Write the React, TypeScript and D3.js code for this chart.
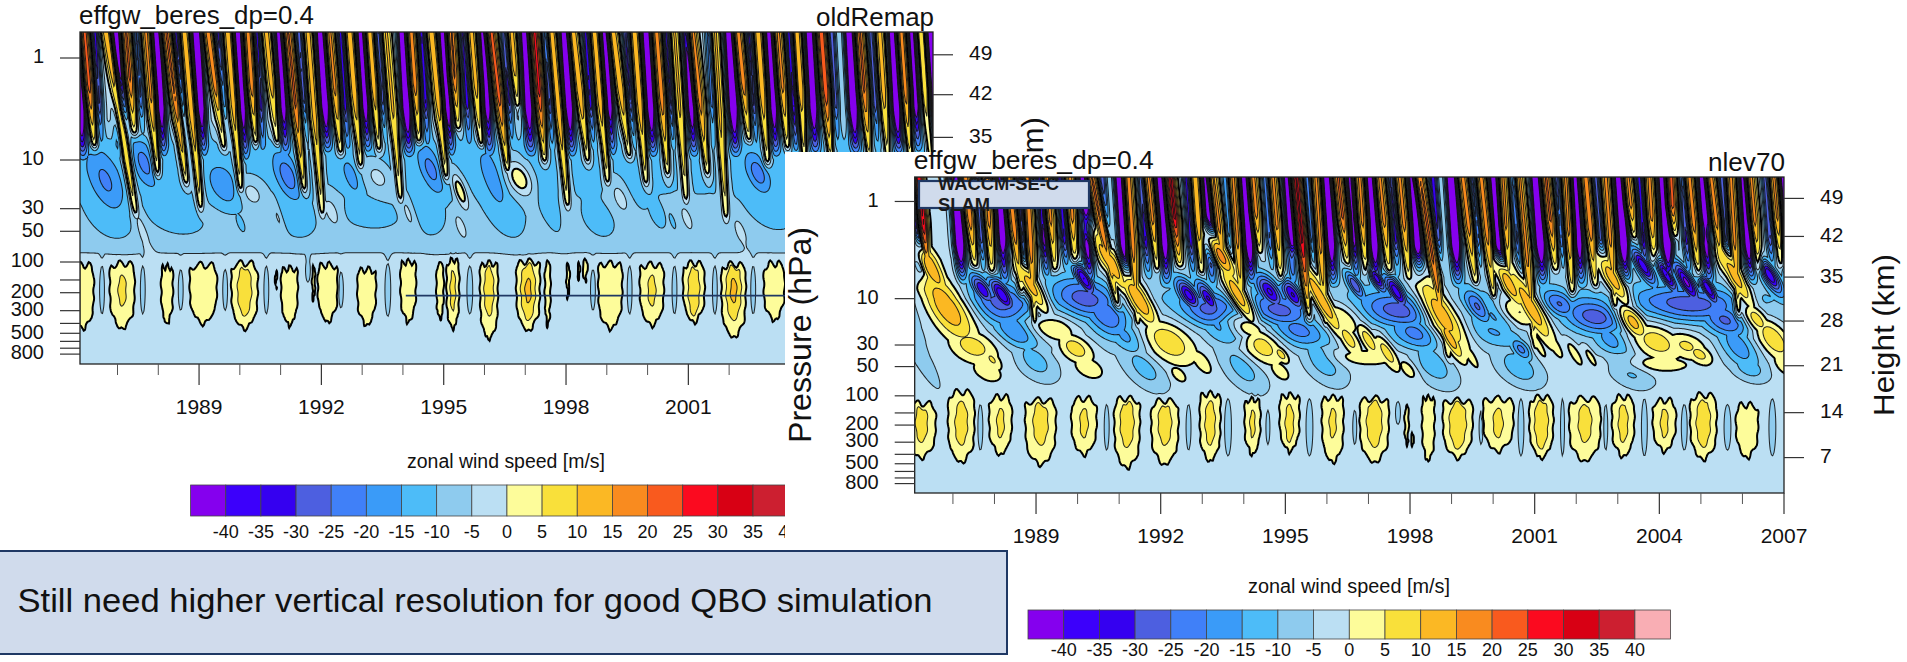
import React, { useMemo } from "react";
import * as d3 from "d3";

// The wind field is not the model output: it is rebuilt from features read off the
// picture (jet streaks, QBO patches, tropospheric cells), in years and hPa.

const levels = [-40, -35, -30, -25, -20, -15, -10, -5, 0, 5, 10, 15, 20, 25, 30, 35, 40];
const colors = ["#8500ee", "#3c00fb", "#3500f0", "#4d5fe0", "#4080f8", "#3a9bf8", "#4dbcf8", "#8ecbee", "#bbdff3",
  "#fdfc9a", "#f9e03a", "#fbb824", "#f98b1f", "#f95a1e", "#fb0a1f", "#d80014", "#cc1f30", "#f9aeb4"];
const majorYears = [1989, 1992, 1995, 1998, 2001, 2004, 2007];
const minorYears = [1987, 1988, 1990, 1991, 1993, 1994, 1996, 1997, 1999, 2000, 2002, 2003, 2005, 2006];
const pressureLabels = [1, 10, 30, 50, 100, 200, 300, 500, 800];
const pressureMinor = [150, 400, 600, 700];
const heightLabels = [49, 42, 35, 28, 21, 14, 7];
const heightPressure = [0.93, 2.29, 6.0, 17, 49, 149, 432];

// west streaks: top year, tip year, tip hPa, peak m/s
const leftWest = [
  [1986.19, 1986.44, 7.7, 20], [1986.72, 1987.46, 36, 12], [1987.21, 1987.42, 5.7, 18], [1987.7, 1987.99, 14.6, 14],
  [1988.2, 1988.7, 18, 18], [1988.64, 1989.05, 32, 12], [1989.22, 1989.62, 8, 16], [1989.71, 1990.03, 21, 12],
  [1990.2, 1990.4, 7.1, 16], [1990.65, 1990.93, 7.1, 10], [1991.18, 1991.59, 21, 18], [1991.67, 1992.03, 36, 10],
  [1992.2, 1992.48, 8.9, 14], [1992.69, 1992.97, 12, 12], [1993.18, 1993.42, 8.3, 12], [1993.59, 1993.95, 26, 8],
  [1994.2, 1994.4, 6.9, 16], [1994.7, 1995.07, 15.7, 12], [1995.19, 1995.35, 5.1, 18], [1995.68, 1995.93, 7.4, 10],
  [1996.17, 1996.58, 13.5, 20], [1996.66, 1996.82, 3, 10], [1997.23, 1997.48, 10.8, 24], [1997.64, 1998.05, 30, 12],
  [1998.17, 1998.54, 10.8, 12], [1998.7, 1999.03, 17.6, 12], [1999.15, 1999.56, 9.6, 12], [1999.68, 1999.97, 18, 12],
  [2000.22, 2000.5, 14.6, 16], [2000.66, 2000.95, 26, 8], [2001.11, 2001.48, 14.6, 16], [2001.65, 2001.93, 39, 9],
  [2002.22, 2002.5, 6.6, 16], [2002.71, 2002.95, 11.2, 12], [2003.2, 2003.44, 8, 14], [2003.65, 2003.85, 10, 14],
  [2004.26, 2004.5, 10, 22], [2005.2, 2005.45, 10, 18], [2005.69, 2005.9, 10, 10], [2006.22, 2006.45, 10, 16],
  [2006.71, 2006.95, 10, 8],
];
// east streaks: top year, tip hPa, peak m/s
const leftEast = [
  [1986.0, 10.8, -55], [1986.44, 8, -28], [1986.97, 10, -55], [1987.46, 6, -22], [1987.95, 10, -55], [1988.44, 8, -32],
  [1988.93, 10, -55], [1989.46, 8, -28], [1989.95, 11, -55], [1990.4, 9, -32], [1990.97, 10, -45], [1991.46, 7, -26],
  [1991.99, 9, -55], [1992.48, 9, -30], [1992.97, 9, -50], [1993.38, 7, -28], [1994.0, 10, -55], [1994.45, 8, -30],
  [1994.99, 10, -55], [1995.48, 8, -28], [1995.97, 10, -45], [1996.5, 8, -28], [1996.99, 10, -50], [1997.52, 8, -30],
  [1997.97, 10, -55], [1998.5, 8, -30], [1998.95, 10, -50], [1999.48, 8, -28], [1999.97, 10, -55], [2000.46, 8, -30],
  [2000.99, 10, -50], [2001.52, 8, -26], [2002.01, 10, -55], [2002.5, 8, -28], [2002.99, 10, -50], [2003.53, 9, -45],
  [2003.97, 10, -50], [2004.5, 8, -25], [2004.96, 10, -55], [2005.49, 8, -25], [2006.02, 10, -55], [2006.47, 9, -45],
  [2006.92, 10, -50],
];
// patches: year, hPa, sigma years, sigma decades, value m/s
const leftPatches = [
  [1986.72, 16.6, 0.25, 0.2, -21], [1986.85, 39, 0.3, 0.13, -14], [1987.66, 10.8, 0.18, 0.15, -22], [1988.48, 36, 0.4, 0.12, -14],
  [1989.62, 18, 0.22, 0.12, -20], [1991.18, 14.6, 0.18, 0.15, -23], [1991.34, 39, 0.3, 0.12, -14], [1990.03, 43, 0.06, 0.06, -12],
  [1992.73, 14.6, 0.1, 0.1, -19], [1993.22, 36, 0.4, 0.08, -13], [1994.69, 12.5, 0.16, 0.15, -22], [1994.53, 36, 0.3, 0.15, -13],
  [1996.21, 15.7, 0.15, 0.2, -19], [1996.54, 36, 0.25, 0.15, -14], [1997.6, 31, 0.12, 0.15, -14], [1998.83, 42, 0.22, 0.1, -13],
  [1999.73, 18, 0.12, 0.12, -14], [2000.26, 36, 0.1, 0.08, -13], [2000.62, 41, 0.04, 0.05, -12], [2002.71, 13.5, 0.16, 0.12, -23],
  [2003.07, 32, 0.3, 0.12, -14],
  [1990.28, 21, 0.22, 0.1, -3], [1990.93, 36, 0.08, 0.12, -3], [1992.24, 31, 0.15, 0.12, -3], [1993.38, 14.6, 0.2, 0.1, -3],
  [1994.12, 32, 0.12, 0.15, -3], [1987.58, 46, 0.1, 0.15, -3], [1995.4, 43, 0.1, 0.1, -3], [1999.32, 23, 0.15, 0.12, -3],
  [2000.95, 36, 0.1, 0.1, -3], [2002.26, 48, 0.1, 0.1, -3], [1996.85, 15, 0.2, 0.12, 4], [1995.4, 20, 0.1, 0.12, 4],
  [1986.62, 188, 0.05, 0.2, -7], [1987.62, 188, 0.05, 0.2, -7], [1988.55, 188, 0.05, 0.17, -7], [1989.64, 188, 0.05, 0.17, -7],
  [1990.65, 188, 0.05, 0.2, -7], [1991.67, 120, 0.05, 0.1, -7], [1992.48, 188, 0.05, 0.15, -7], [1993.63, 188, 0.06, 0.22, -7],
  [1995.64, 188, 0.06, 0.2, -7], [1998.66, 188, 0.05, 0.17, -7], [1999.56, 188, 0.05, 0.2, -7], [2000.66, 188, 0.05, 0.2, -7],
  [2001.65, 188, 0.05, 0.2, -7], [2002.59, 188, 0.05, 0.2, -7],
];
// tropospheric cells: start year, end year, top hPa, bottom hPa, peak m/s
const leftCells = [
  [1985.9, 1986.42, 99, 480, 5], [1986.81, 1987.42, 96, 480, 6], [1988.07, 1988.36, 103, 430, 5], [1988.77, 1989.44, 99, 430, 5],
  [1989.79, 1990.44, 96, 480, 9], [1990.85, 1990.93, 120, 188, 3], [1991.01, 1991.42, 107, 446, 4], [1991.77, 1991.85, 107, 265, 3],
  [1991.91, 1992.4, 99, 414, 4], [1992.88, 1993.34, 110, 446, 4], [1993.94, 1994.32, 92, 414, 4], [1994.82, 1995.0, 99, 399, 4],
  [1995.07, 1995.38, 89, 480, 7], [1995.89, 1996.33, 96, 604, 9], [1996.78, 1997.36, 92, 500, 12], [1997.48, 1997.62, 96, 446, 4],
  [1998.01, 1998.09, 99, 245, 3], [1998.27, 1998.35, 99, 162, 3], [1998.4, 1998.54, 92, 162, 3], [1998.79, 1999.38, 96, 480, 5],
  [1999.81, 2000.4, 99, 446, 6], [2000.87, 2001.4, 96, 414, 9], [2001.81, 2002.41, 99, 582, 12], [2002.85, 2003.36, 96, 399, 4],
];
const leftBaseZ = [-0.3, 0.6, 0.85, 1.1, 1.3, 1.5, 1.8, 1.9, 2.0, 2.8, 3];
const leftBaseU = [-4, -4, -11, -11, -10.2, -9, -7, -5.2, -3, -3, -2.5];

const rightWest = [
  [1986.18, 1986.42, 6.6, 28], [1987.3, 1987.54, 4.8, 16], [1987.82, 1987.94, 5.6, 14], [1988.34, 1988.66, 9.1, 16],
  [1988.78, 1988.98, 20, 16], [1989.26, 1989.46, 5.2, 14], [1989.82, 1989.94, 4.5, 14], [1990.34, 1990.98, 12.4, 18],
  [1991.22, 1991.46, 20, 16], [1991.7, 1991.94, 5.2, 14], [1992.23, 1992.47, 4.8, 28], [1992.83, 1992.99, 5.6, 12],
  [1993.26, 1993.58, 7.7, 14], [1993.74, 1993.98, 15.7, 14], [1994.22, 1994.38, 3.5, 15], [1994.7, 1994.9, 6.6, 14],
  [1995.26, 1995.58, 17, 28], [1995.74, 1995.98, 20, 14], [1996.27, 1996.51, 4.5, 18], [1996.79, 1996.95, 5.6, 14],
  [1997.27, 1997.51, 5.6, 14], [1997.75, 1997.99, 6.6, 14], [1998.23, 1998.95, 44, 18], [1999.27, 1999.59, 7.2, 15],
  [1999.71, 2000.03, 10.6, 15], [2000.23, 2000.39, 7.2, 14], [2000.63, 2001.03, 35, 14], [2001.27, 2001.51, 5.2, 18],
  [2001.75, 2001.91, 9.1, 14], [2002.23, 2002.47, 7.7, 16], [2002.71, 2002.95, 13.4, 14], [2003.24, 2003.4, 2.4, 14],
  [2003.76, 2003.88, 4.2, 14], [2004.28, 2004.36, 2.4, 20], [2004.72, 2004.96, 6.1, 15], [2005.24, 2005.52, 5.2, 15],
  [2005.72, 2005.92, 15.7, 14], [2006.2, 2006.4, 5.2, 15], [2006.76, 2006.96, 4.8, 14],
];
const rightEast = [
  [1986.08, 8, -50], [1987.06, 8, -55], [1987.58, 6, -25], [1988.1, 8, -50], [1988.58, 7, -35], [1989.1, 7, -40], [1989.58, 6, -30],
  [1990.14, 8, -50], [1990.58, 6, -25], [1991.02, 8, -55], [1991.54, 7, -30], [1991.98, 8, -50], [1992.63, 7, -30], [1993.1, 8, -50],
  [1993.58, 5, -20], [1994.02, 8, -55], [1994.54, 6, -25], [1995.06, 8, -50], [1995.54, 6, -22], [1995.98, 8, -55], [1996.55, 7, -40],
  [1997.03, 8, -55], [1997.55, 7, -28], [1998.07, 8, -50], [1998.55, 6, -28], [1998.99, 8, -55], [1999.51, 6, -25], [2000.03, 8, -55],
  [2000.51, 7, -30], [2001.03, 8, -55], [2001.55, 6, -25], [2001.95, 8, -50], [2002.47, 6, -25], [2003.03, 8, -55], [2003.52, 7, -30],
  [2004.08, 8, -55], [2004.56, 7, -28], [2005.04, 8, -50], [2005.52, 7, -28], [2006.04, 8, -50], [2006.56, 6, -25], [2006.96, 8, -50],
];
const rightPatches = [
  // QBO west phases
  [1986.5, 5.2, 0.15, 0.2, 14], [1986.82, 11.5, 0.28, 0.2, 14], [1987.06, 20, 0.25, 0.08, 6], [1987.46, 30, 0.3, 0.1, 7.5], [1987.94, 42, 0.1, 0.06, 6], [1987.82, 55, 0.2, 0.07, 3],
  [1988.9, 7.7, 0.12, 0.15, 13], [1989.38, 20, 0.3, 0.08, 5], [1989.94, 32, 0.2, 0.08, 8], [1990.26, 51, 0.2, 0.07, 3],
  [1990.82, 4.5, 0.12, 0.2, 15], [1991.46, 10, 0.15, 0.15, 15], [1992.18, 27, 0.3, 0.12, 9], [1992.42, 60, 0.1, 0.05, 3], [1992.98, 44, 0.12, 0.08, 3],
  [1993.42, 3.5, 0.12, 0.15, 18], [1993.86, 9.1, 0.12, 0.15, 14], [1994.06, 20, 0.25, 0.08, 5], [1994.42, 30, 0.25, 0.1, 8], [1994.89, 37, 0.08, 0.05, 8], [1994.86, 55, 0.12, 0.06, 3],
  [1995.86, 10, 0.12, 0.2, 14], [1996.3, 15.7, 0.25, 0.1, 5], [1996.5, 25, 0.12, 0.1, 8], [1996.99, 26, 0.1, 0.1, 8], [1997.43, 35, 0.1, 0.1, 8], [1997.95, 53, 0.1, 0.06, 3], [1996.95, 40, 0.4, 0.05, 3],
  [1998.71, 13.4, 0.2, 0.2, 14], [1998.95, 25, 0.1, 0.12, 14], [1999.43, 37, 0.07, 0.09, 3],
  [2000.39, 7.2, 0.12, 0.15, 14], [2000.87, 11.5, 0.14, 0.2, 14], [2000.55, 13.4, 0.3, 0.1, 6], [2001.03, 27, 0.07, 0.1, 4],
  [2001.43, 28, 0.09, 0.1, 3], [2001.95, 36, 0.07, 0.08, 3], [2002.35, 40, 0.05, 0.06, 3],
  [2002.91, 6.6, 0.12, 0.15, 13], [2003.35, 17, 0.15, 0.1, 13], [2003.91, 27, 0.3, 0.1, 8], [2004.64, 30, 0.25, 0.08, 6], [2004.96, 37, 0.15, 0.06, 7], [2003.91, 47, 0.5, 0.05, 3],
  [2005.84, 6.1, 0.12, 0.2, 13], [2006.32, 15.7, 0.15, 0.1, 8], [2006.72, 25, 0.2, 0.12, 9], [2006.96, 47, 0.12, 0.07, 3],
  // QBO east phases
  [1988.18, 11.5, 0.45, 0.13, -27], [1988.58, 21.5, 0.3, 0.1, -22], [1988.98, 44, 0.22, 0.1, -13], [1987.7, 8, 0.12, 0.09, -36], [1988.18, 9.1, 0.12, 0.1, -40],
  [1990.18, 10, 0.4, 0.12, -28], [1990.14, 6.1, 0.1, 0.1, -40], [1990.74, 15.7, 0.3, 0.13, -24], [1991.22, 25, 0.22, 0.1, -18], [1991.62, 51, 0.22, 0.12, -13],
  [1992.67, 9.1, 0.12, 0.09, -38], [1993.15, 10, 0.1, 0.1, -36], [1993.26, 13.4, 0.4, 0.1, -28], [1993.66, 20, 0.3, 0.1, -22], [1993.98, 51, 0.22, 0.13, -13],
  [1994.62, 8.4, 0.14, 0.1, -36], [1995.18, 9.1, 0.12, 0.1, -36], [1994.86, 13.4, 0.45, 0.1, -27], [1995.34, 21.5, 0.4, 0.1, -22], [1995.9, 44, 0.22, 0.12, -14],
  [1996.67, 7.2, 0.08, 0.08, -30], [1997.19, 6.1, 0.08, 0.08, -38], [1997.67, 8.4, 0.1, 0.1, -40], [1997.75, 13.4, 0.5, 0.1, -28], [1998.15, 23, 0.35, 0.1, -22], [1998.55, 47, 0.24, 0.12, -14],
  [1999.67, 12.4, 0.14, 0.09, -30], [2000.15, 14.5, 0.2, 0.1, -30], [2000.15, 21.5, 0.4, 0.1, -17], [2000.67, 33, 0.12, 0.07, -22], [2000.63, 51, 0.24, 0.1, -14],
  [2001.59, 11.5, 0.2, 0.08, -26], [2002.47, 15.7, 0.4, 0.1, -28], [2002.87, 27, 0.24, 0.1, -18], [2003.27, 51, 0.24, 0.1, -14],
  [2003.6, 4.5, 0.1, 0.1, -40], [2004.16, 5.6, 0.08, 0.1, -40], [2004.64, 6.6, 0.1, 0.12, -42], [2005.16, 7.7, 0.08, 0.1, -40], [2004.72, 11.5, 0.7, 0.1, -28],
  [2005.6, 17, 0.3, 0.1, -26], [2005.92, 32, 0.24, 0.14, -18], [2006.16, 51, 0.2, 0.07, -14], [2006.64, 5.6, 0.1, 0.1, -40],
  // tongues under the tropopause
  [1986.3, 45, 0.12, 0.2, -7], [1987.66, 211, 0.05, 0.2, -7], [1990.7, 211, 0.05, 0.2, -7], [1992.67, 211, 0.05, 0.2, -7], [1993.62, 211, 0.07, 0.25, -7],
  [1994.58, 211, 0.04, 0.15, -7], [1995.58, 211, 0.07, 0.25, -7], [1996.67, 211, 0.04, 0.15, -7], [1997.71, 150, 0.05, 0.1, -7], [1999.71, 211, 0.04, 0.15, -7],
  [2000.67, 211, 0.06, 0.25, -7], [2001.67, 211, 0.04, 0.25, -7], [2002.71, 211, 0.04, 0.2, -7], [2003.64, 211, 0.06, 0.25, -7], [2004.6, 211, 0.06, 0.2, -7],
  [2005.64, 211, 0.07, 0.2, -7], [2006.72, 211, 0.07, 0.25, -7],
];
const rightCells = [
  [1985.9, 1986.59, 112, 464, 7], [1986.88, 1987.52, 85, 515, 8], [1987.87, 1988.42, 96, 429, 6], [1988.74, 1989.48, 104, 543, 8],
  [1989.85, 1990.46, 100, 429, 6], [1990.88, 1991.5, 100, 587, 9], [1991.77, 1992.43, 104, 543, 8], [1992.94, 1993.44, 89, 501, 8],
  [1994.02, 1994.4, 100, 429, 6], [1994.86, 1995.34, 92, 396, 7], [1995.88, 1996.4, 96, 515, 6], [1996.79, 1997.49, 100, 515, 9],
  [1997.87, 1997.97, 122, 367, 3], [1998.0, 1998.11, 240, 367, 3], [1998.29, 1998.59, 96, 501, 4], [1998.79, 1999.51, 104, 464, 10],
  [1999.75, 2000.49, 100, 396, 6], [2000.87, 2001.45, 96, 464, 10], [2001.83, 2002.59, 100, 501, 7], [2002.86, 2003.4, 96, 450, 7],
  [2003.84, 2004.4, 104, 396, 6], [2004.74, 2005.38, 92, 480, 9], [2005.84, 2006.38, 115, 464, 5],
];
const rightBaseZ = [-0.3, 0.6, 0.85, 1.0, 1.3, 1.6, 2.0, 2.8, 3];
const rightBaseU = [-4, -4, -8, -9, -6, -4, -3, -3, -2.5];

const font = "'Liberation Sans', Arial, sans-serif";
const INK = "#141414";

function buildField(p: any, nx: number, ny: number, sx: any, sy: any) {
  const base = d3.scaleLinear().domain(p.baseZ).range(p.baseU).clamp(true);
  const sig = (v: number) => 1 / (1 + Math.exp(-v));
  const zTop = Math.log10(p.yDomain[0]);
  const values = new Float64Array(nx * ny);
  const years = d3.range(nx).map((i) => sx.invert(i + 0.5));
  for (let j = 0; j < ny; j++) {
    const z = Math.log10(sy.invert(j + 0.5));
    const b = base(z);
    const gs: number[][] = [];
    for (const [t0, t1, tipP, peak] of p.west) {
      const frac = (z - zTop) / (Math.log10(tipP) - zTop);
      const s = 1 - frac;
      if (s < -0.12) continue;
      const r = Math.max(0, Math.min(1, s / 0.55));
      gs.push([t0 + (t1 - t0) * frac, (Math.abs(b) + 3 + peak * r) * sig(s / 0.02), 0.088 * (0.75 + 0.25 * r)]);
    }
    for (const [t0, tipP, peak] of p.east) {
      const frac = (z - zTop) / (Math.log10(tipP) - zTop);
      const s = 1 - frac;
      if (s < 0) continue;
      gs.push([t0 + p.eastDrift * frac, 1.1 * peak * Math.min(1, s / 0.4), Math.abs(peak) > 40 ? 0.095 : 0.075]);
    }
    for (const [t, pr, st, sz, target] of p.patches) {
      const zc = Math.log10(pr);
      const amp = target - base(zc);
      const broad = pr > 90 ? 1 : amp > 0 ? p.westBroad : p.eastBroad;
      const f = Math.exp(-((z - zc) ** 2) / (2 * (sz * broad) ** 2));
      if (f < 0.01) continue;
      gs.push([t + (pr > 90 ? 0 : p.tilt * (z - zc)), amp * f, st * broad]);
    }
    for (let i = 0; i < nx; i++) {
      const t = years[i];
      let wMax = 0, eMin = 0;
      for (const g of gs) {
        const d = t - g[0];
        if (Math.abs(d) > g[2] * 4) continue;
        const v = g[1] * Math.exp(-(d * d) / (2 * g[2] * g[2]));
        if (v > wMax) wMax = v;
        else if (v < eMin) eMin = v;
      }
      // tropospheric cells: pointed foot, notched crown
      let cell = 0;
      if (z > 1.8 && z < 3) {
        for (const [y0, y1, pt, pb, peak] of p.cells) {
          if (t < y0 - 0.1 || t > y1 + 0.1) continue;
          const zt = Math.log10(pt), zb = Math.log10(pb);
          const m = (y0 + y1) / 2;
          const hw = (y1 - y0) / 2;
          const depth = Math.max(0, (z - 2.2) / (zb - 2.2));
          const wob = 0.012 * Math.sin(z * 38 + y0 * 7);
          const u = (t + wob - m) / (hw * (1 - 0.28 * depth * depth));
          const au = Math.abs(u);
          if (au > 1.4) continue;
          const ztL = zt + (hw > 0.1 ? 0.035 * (1 + Math.cos(u * 7.5 + y0 * 13)) + 0.05 * au ** 4 : 0.1 * au * au);
          const zbL = zb - 0.16 * au ** 1.6 - 0.02 * (1 + Math.cos(u * 9 + y0 * 5));
          const box = sig((z - ztL) / 0.012) * sig((zbL - z) / 0.012) * sig((1 - au) * hw / 0.012);
          const bump = peak > 5 ? (peak - 3) * Math.exp(-(((z - 2.28) / 0.17) ** 2) / 2 - ((u / 0.36) ** 2) / 2) : 0;
          cell += box * (3 + Math.abs(b) + bump);
        }
      }
      values[i + j * nx] = b + wMax + eMin * Math.exp(-wMax / 10) + cell;
    }
  }
  return values;
}

function FieldPanel({ p }: { p: any }) {
  const { x0, x1, top, bottom, id } = p;
  const xScale = d3.scaleLinear().domain([1986.08, 2007]).range([x0, x1]);
  const yScale = d3.scaleLog().domain(p.yDomain).range([top, bottom]);
  const bands = useMemo(() => {
    const nx = Math.round((x1 - x0) / 1.25);
    const ny = Math.round((bottom - top) / 1.25);
    const ix = d3.scaleLinear().domain([0.5, nx - 0.5]).range([x0, x1]);
    const iy = d3.scaleLinear().domain([0.5, ny - 0.5]).range([top, bottom]);
    const sx = { invert: (g: number) => xScale.invert(ix(g)) };
    const sy = { invert: (g: number) => yScale.invert(iy(g)) };
    const values = buildField(p, nx, ny, sx, sy);
    const tr = d3.geoTransform({
      point(a: number, b: number) {
        (this as any).stream.point(ix(a), iy(b));
      },
    });
    const path = d3.geoPath(tr);
    return d3.contours().size([nx, ny]).thresholds(levels)(values as any).map((c: any) => ({ level: c.value, d: path(c) || "" }));
  }, []);
  const shownMajor = majorYears.filter((y) => !p.visibleTo || y < p.visibleTo);
  const shownMinor = minorYears.filter((y) => !p.visibleTo || y < p.visibleTo);
  return (
    <g>
      <clipPath id={id}>
        <rect x={x0} y={top} width={x1 - x0} height={bottom - top} />
      </clipPath>
      <filter id={id + "soft"} x="0" y="0" width="100%" height="100%">
        <feGaussianBlur stdDeviation={0.45} />
      </filter>
      <g clipPath={`url(#${id})`}>
        <g filter={`url(#${id}soft)`}>
          <rect x={x0} y={top} width={x1 - x0} height={bottom - top} fill={colors[0]} />
          {bands.map((b: any, i: number) => (
            <path key={"f" + i} d={b.d} fill={colors[i + 1]} />
          ))}
          {bands.map((b: any, i: number) => (
            <path key={"l" + i} d={b.d} fill="none" stroke={b.level === 0 ? "#000" : INK}
              strokeWidth={b.level === 0 ? 2 : 1.05} strokeOpacity={b.level === 0 ? 1 : 0.9} />
          ))}
        </g>
        {p.refLine && (
          <line x1={xScale(p.refLine[0])} x2={x1} y1={yScale(p.refLine[1])} y2={yScale(p.refLine[1])} stroke="#1f3864" strokeWidth={1.8} />
        )}
      </g>
      <rect x={x0} y={top} width={x1 - x0} height={bottom - top} fill="none" stroke="#222" strokeWidth={1.3} />
      {shownMajor.map((y) => (
        <g key={y} transform={`translate(${xScale(y)},${bottom})`}>
          <line y2={21} stroke="#333" strokeWidth={1.2} />
          <text y={44} textAnchor="middle" fontSize={21} fontFamily={font} fill="#111" dominantBaseline="middle">{y}</text>
        </g>
      ))}
      {shownMinor.map((y) => (
        <line key={y} x1={xScale(y)} x2={xScale(y)} y1={bottom} y2={bottom + 11} stroke="#555" strokeWidth={1} />
      ))}
      {pressureLabels.map((v) => (
        <g key={v} transform={`translate(${x0},${yScale(v)})`}>
          <line x2={-20} stroke="#333" strokeWidth={1.2} />
          <text x={-36} textAnchor="end" fontSize={20} fontFamily={font} fill="#111" dominantBaseline="middle">{v}</text>
        </g>
      ))}
      {pressureMinor.map((v) => (
        <line key={v} x1={x0 - 20} x2={x0} y1={yScale(v)} y2={yScale(v)} stroke="#333" strokeWidth={1.2} />
      ))}
      {heightLabels.filter((h, i) => !p.heightCut || yScale(heightPressure[i]) < p.heightCut).map((h) => (
        <g key={h} transform={`translate(${x1},${yScale(heightPressure[heightLabels.indexOf(h)])})`}>
          <line x2={20} stroke="#333" strokeWidth={1.2} />
          <text x={36} fontSize={21} fontFamily={font} fill="#111" dominantBaseline="middle">{h}</text>
        </g>
      ))}
      <text x={x0 - 1} y={top - 8} fontSize={26} fontFamily={font} textLength={p.titleWidth} lengthAdjust="spacingAndGlyphs" fill="#111">effgw_beres_dp=0.4</text>
      <text x={x1 + 1} y={top - 6} textAnchor="end" fontSize={26} fontFamily={font} textLength={p.tagWidth} lengthAdjust="spacingAndGlyphs" fill="#111">{p.tag}</text>
      <text transform={`translate(${x1 + 110},${(top + bottom) / 2}) rotate(-90)`} textAnchor="middle" fontSize={30} fontFamily={font}
        textLength={162} lengthAdjust="spacingAndGlyphs" fill="#111">Height (km)</text>
    </g>
  );
}

function ColorBar({ x, y, w, h, n, titleX, titleY, labelY, titleWidth }: any) {
  const scale = d3.scaleLinear().domain([0, n]).range([x, x + n * w]);
  return (
    <g>
      <text x={titleX} y={titleY} textAnchor="middle" dominantBaseline="middle" fontSize={19.5} fontFamily={font} textLength={titleWidth} lengthAdjust="spacingAndGlyphs" fill="#111">zonal wind speed [m/s]</text>
      {colors.slice(0, n).map((c, i) => (
        <rect key={i} x={scale(i)} y={y} width={w} height={h} fill={c} stroke="#444" strokeWidth={0.8} />
      ))}
      {levels.map((l, i) => (
        <text key={l} x={scale(i + 1)} y={labelY} textAnchor="middle" dominantBaseline="middle" fontSize={18} fontFamily={font} fill="#111">{l}</text>
      ))}
    </g>
  );
}

const leftPanel = {
  id: "clipL", x0: 80, x1: 933, top: 32, bottom: 364, yDomain: [0.556, 1000], tag: "oldRemap", titleWidth: 235, tagWidth: 118,
  west: leftWest, east: leftEast, patches: leftPatches, cells: leftCells, baseZ: leftBaseZ, baseU: leftBaseU,
  eastDrift: 0.16, tilt: 0.8, westBroad: 1, eastBroad: 1.15, refLine: [1994.07, 214], visibleTo: 2003, heightCut: 152,
};
const rightPanel = {
  id: "clipR", x0: 914.7, x1: 1784, top: 177, bottom: 493, yDomain: [0.56, 1000], tag: "nlev70", titleWidth: 240, tagWidth: 77,
  west: rightWest, east: rightEast, patches: rightPatches, cells: rightCells, baseZ: rightBaseZ, baseU: rightBaseU,
  eastDrift: 0.18, tilt: 1.25, westBroad: 1.35, eastBroad: 1.3,
};

export default function App() {
  return (
    <svg width={1907} height={662} style={{ position: "absolute", left: 0, top: 0, background: "#fff" }}>
      <FieldPanel p={leftPanel} />
      <ColorBar x={190.6} y={485} w={35.15} h={31} n={18} titleX={506} titleY={463} labelY={533} titleWidth={198} />
      {/* second slide picture pasted over the first one */}
      <rect x={785} y={152} width={1122} height={510} fill="#fff" />
      <FieldPanel p={rightPanel} />
      <text transform="translate(803,335) rotate(-90)" textAnchor="middle" dominantBaseline="middle" fontSize={31} fontFamily={font} textLength={216} lengthAdjust="spacingAndGlyphs" fill="#111">Pressure (hPa)</text>
      <ColorBar x={1028} y={610} w={35.7} h={29} n={18} titleX={1349} titleY={588} labelY={651} titleWidth={202} />
      <rect x={-2} y={551} width={1009} height={103} fill="#d0dbec" stroke="#1f3864" strokeWidth={2} />
      <text x={17.5} y={603} dominantBaseline="middle" fontSize={33} fontFamily={font} textLength={915} lengthAdjust="spacingAndGlyphs" fill="#111">Still need higher vertical resolution for good QBO simulation</text>
      <rect x={919} y={181} width={170} height={27} fill="#d0dbec" stroke="#1f3864" strokeWidth={2.2} />
      <text x={938} y={190} fontSize={18} fontWeight="bold" fontFamily={font} textLength={121} lengthAdjust="spacingAndGlyphs" fill="#1a1a1a">WACCM-SE-C</text>
      <text x={938} y={211} fontSize={18} fontWeight="bold" fontFamily={font} textLength={52} lengthAdjust="spacingAndGlyphs" fill="#1a1a1a">SLAM</text>
    </svg>
  );
}
